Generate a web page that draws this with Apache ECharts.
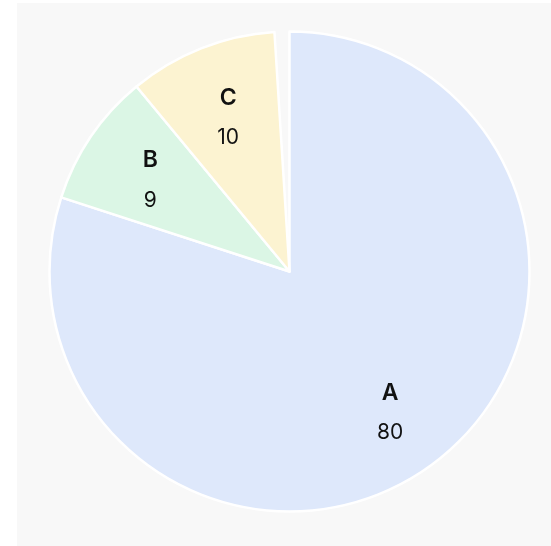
<!DOCTYPE html>
<html>
<head>
<meta charset="utf-8">
<script src="https://cdn.jsdelivr.net/npm/echarts@6/dist/echarts.min.js"></script>
<style>
  html, body { margin: 0; padding: 0; background: #ffffff; }
  #wrap { position: absolute; left: 17px; top: 3px; width: 534px; height: 543px; background: #f8f8f8; }
  #chart { position: absolute; left: 0; top: 0; width: 551px; height: 546px; }
</style>
</head>
<body>
<div id="wrap"></div>
<div id="chart"></div>
<script>
const categories = ['A', 'B', 'C', ''];
const values = [80, 9, 10, 1];
const colors = ['#dee8fb', '#dbf6e5', '#fcf3d1', 'rgba(0,0,0,0)'];

const chart = echarts.init(document.getElementById('chart'), null, { renderer: 'canvas' });

const baseData = categories.map((c, i) => ({
  name: c,
  value: values[i],
  itemStyle: {
    color: colors[i],
    borderColor: c === '' ? 'rgba(0,0,0,0)' : '#ffffff',
    borderWidth: c === '' ? 0 : 2.5
  }
}));

const labelData = categories.map((c, i) => ({
  name: c,
  value: values[i],
  itemStyle: { color: 'rgba(0,0,0,0)', borderWidth: 0 },
  label: { show: c !== '' }
}));

chart.setOption({
  backgroundColor: 'transparent',
  animation: false,
  series: [
    {
      type: 'pie',
      center: [289.5, 271.5],
      radius: [0, 240],
      startAngle: 90,
      clockwise: true,
      silent: true,
      label: { show: false },
      labelLine: { show: false },
      data: baseData
    },
    {
      type: 'pie',
      center: [289.5, 271.5],
      radius: [93, 240],
      startAngle: 90,
      clockwise: true,
      silent: true,
      labelLine: { show: false },
      label: {
        position: 'inside',
        offset: [1, 4],
        formatter: p => '{n|' + p.name + '}\n{v|' + p.value + '}',
        rich: {
          n: { fontFamily: 'Inter', fontSize: 23, fontWeight: 600, color: '#111111', lineHeight: 40 },
          v: { fontFamily: 'Inter', fontSize: 21, fontWeight: 400, color: '#111111', lineHeight: 40 }
        }
      },
      data: labelData
    }
  ]
});
</script>
</body>
</html>
